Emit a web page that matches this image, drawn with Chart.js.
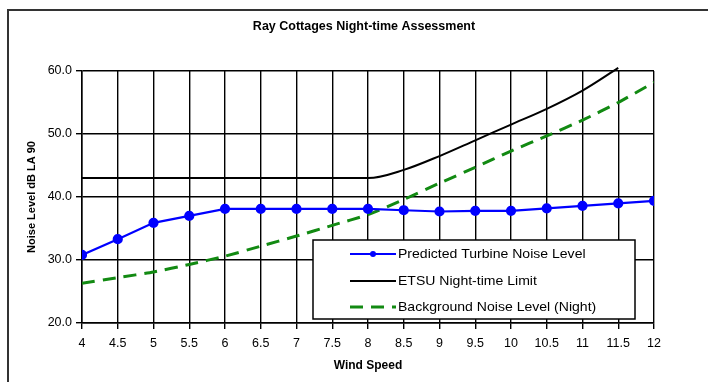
<!DOCTYPE html>
<html>
<head>
<meta charset="utf-8">
<script src="https://cdn.jsdelivr.net/npm/chart.js@4"></script>
<style>
  html, body { margin: 0; padding: 0; background: #fff; width: 708px; height: 382px; overflow: hidden; }
  #wrap { position: absolute; left: 0; top: 0; width: 708px; height: 382px; }
  #frame { position: absolute; left: 7px; top: 9px; width: 720px; height: 400px; border-left: 2px solid #333; border-top: 2px solid #333; pointer-events: none; }
</style>
</head>
<body>
<div id="wrap"><canvas id="c" width="708" height="382"></canvas></div>
<div id="frame"></div>
<script>
const chartTitle = 'Ray Cottages Night-time Assessment';
const xTitle = 'Wind Speed';
const yTitle = 'Noise Level dB LA 90';
const windSpeeds = [4, 4.5, 5, 5.5, 6, 6.5, 7, 7.5, 8, 8.5, 9, 9.5, 10, 10.5, 11, 11.5, 12];
const xTickLabels = ['4', '4.5', '5', '5.5', '6', '6.5', '7', '7.5', '8', '8.5', '9', '9.5', '10', '10.5', '11', '11.5', '12'];
const yTickValues = [20, 30, 40, 50, 60];
const yTickLabels = ['20.0', '30.0', '40.0', '50.0', '60.0'];
const seriesNames = ['Predicted Turbine Noise Level', 'ETSU Night-time Limit', 'Background Noise Level (Night)'];
const predictedNoise = [30.8, 33.3, 35.9, 37.0, 38.1, 38.1, 38.1, 38.1, 38.1, 37.9, 37.7, 37.8, 37.8, 38.2, 38.6, 39.0, 39.4];
const etsuLimit = [43, 43, 43, 43, 43, 43, 43, 43, 43, 44.3, 46.5, 49.0, 51.5, 54.0, 56.9, 60.5, null];
const backgroundNoise = [26.3, 27.2, 28.1, 29.3, 30.6, 32.2, 33.8, 35.5, 37.2, 39.6, 42.2, 44.7, 47.3, 49.7, 52.2, 55.0, 58.2];

const toPoints = arr => windSpeeds.map((x, i) => ({ x: x, y: arr[i] })).filter(p => p.y !== null);

const titlePlugin = {
  id: 'mainTitle',
  afterDraw(chart) {
    const ctx = chart.ctx;
    ctx.save();
    ctx.fillStyle = '#000';
    ctx.font = 'bold 12.5px "Liberation Sans", Arial, sans-serif';
    ctx.textAlign = 'center';
    ctx.textBaseline = 'middle';
    ctx.fillText(chartTitle, 364, 27);
    ctx.restore();
  }
};

const legendPlugin = {
  id: 'boxLegend',
  afterDraw(chart) {
    const ctx = chart.ctx;
    const bx = 313, by = 240, bw = 322, bh = 79;
    ctx.save();
    ctx.fillStyle = '#fff';
    ctx.fillRect(bx, by, bw, bh);
    ctx.strokeStyle = '#000';
    ctx.lineWidth = 1.5;
    ctx.strokeRect(bx, by, bw, bh);
    const rows = [254, 281, 307];
    const ds = chart.data.datasets;
    rows.forEach((ry, i) => {
      const d = ds[i];
      ctx.save();
      ctx.strokeStyle = d.borderColor;
      ctx.lineWidth = d.borderWidth;
      ctx.setLineDash(d.borderDash || []);
      ctx.beginPath();
      ctx.moveTo(350, ry);
      ctx.lineTo(396, ry);
      ctx.stroke();
      ctx.restore();
      if (i === 0) {
        ctx.fillStyle = d.pointBackgroundColor;
        ctx.beginPath();
        ctx.arc(373, ry, 3, 0, Math.PI * 2);
        ctx.fill();
      }
      ctx.fillStyle = '#000';
      ctx.font = '13px "Liberation Sans", Arial, sans-serif';
      ctx.textAlign = 'left';
      ctx.textBaseline = 'middle';
      ctx.save();
      ctx.translate(398, ry);
      ctx.scale(1.08, 1);
      ctx.fillText(d.label, 0, 0);
      ctx.restore();
    });
    ctx.restore();
  }
};

new Chart(document.getElementById('c'), {
  type: 'line',
  data: {
    datasets: [
      {
        label: seriesNames[0],
        data: toPoints(predictedNoise),
        borderColor: '#0000ff',
        backgroundColor: '#0000ff',
        pointBackgroundColor: '#0000ff',
        pointBorderColor: '#0000ff',
        borderWidth: 2.2,
        pointRadius: 4,
        tension: 0,
        order: 0
      },
      {
        label: seriesNames[1],
        data: toPoints(etsuLimit),
        borderColor: '#000000',
        backgroundColor: '#000000',
        borderWidth: 2,
        pointRadius: 0,
        cubicInterpolationMode: 'monotone',
        clip: 8,
        order: 1
      },
      {
        label: seriesNames[2],
        data: toPoints(backgroundNoise),
        borderColor: '#128a12',
        backgroundColor: '#128a12',
        borderWidth: 3,
        borderDash: [13, 8],
        pointRadius: 0,
        tension: 0.2,
        order: 2
      }
    ]
  },
  options: {
    responsive: false,
    animation: false,
    events: [],
    layout: { padding: { left: 0, right: 54, top: 71, bottom: 0 } },
    plugins: {
      legend: { display: false },
      title: { display: false },
      tooltip: { enabled: false }
    },
    scales: {
      x: {
        type: 'linear',
        min: 4,
        max: 12,
        afterFit: s => { s.height = 59; },
        afterBuildTicks: s => { s.ticks = windSpeeds.map(v => ({ value: v })); },
        ticks: {
          color: '#000',
          font: { family: '"Liberation Sans", Arial, sans-serif', size: 12.5 },
          padding: 7,
          maxRotation: 0,
          autoSkip: false,
          callback: (v) => { const i = windSpeeds.indexOf(v); return i >= 0 ? xTickLabels[i] : ''; }
        },
        grid: { color: '#000', lineWidth: 1.4, tickLength: 6, drawTicks: true },
        border: { display: true, color: '#000', width: 1.5 },
        title: {
          display: true,
          text: xTitle,
          color: '#000',
          font: { family: '"Liberation Sans", Arial, sans-serif', size: 12, weight: 'bold' },
          padding: { top: 0, bottom: 9 }
        }
      },
      y: {
        min: 20,
        max: 60,
        afterFit: s => { s.width = 82; },
        afterBuildTicks: s => { s.ticks = yTickValues.map(v => ({ value: v })); },
        ticks: {
          color: '#000',
          font: { family: '"Liberation Sans", Arial, sans-serif', size: 12.5 },
          padding: 4,
          callback: (v) => { const i = yTickValues.indexOf(v); return i >= 0 ? yTickLabels[i] : ''; }
        },
        grid: { color: '#000', lineWidth: 1.4, tickLength: 6, drawTicks: true },
        border: { display: true, color: '#000', width: 1.5 },
        title: {
          display: true,
          text: yTitle,
          color: '#000',
          font: { family: '"Liberation Sans", Arial, sans-serif', size: 11, weight: 'bold' },
          padding: { top: 25, bottom: 0 }
        }
      }
    }
  },
  plugins: [titlePlugin, legendPlugin]
});
</script>
</body>
</html>
